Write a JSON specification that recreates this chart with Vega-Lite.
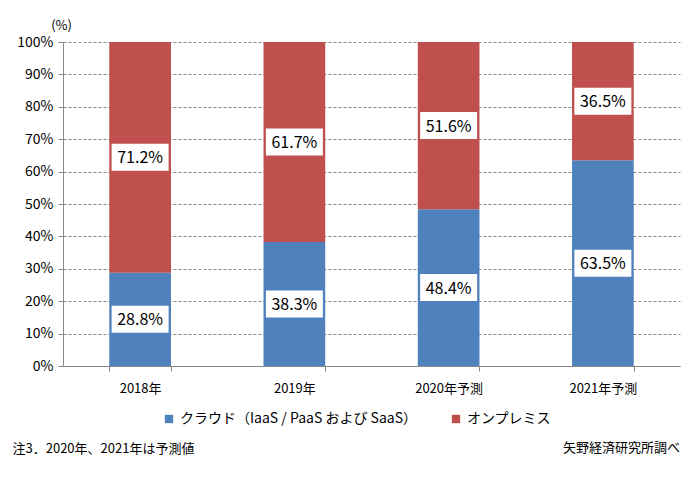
{
  "$schema": "https://vega.github.io/schema/vega-lite/v6.json",
  "autosize": {"type": "none"},
  "width": 617,
  "height": 324,
  "padding": {"left": 63, "top": 42, "right": 13, "bottom": 119},
  "background": "white",
  "config": {
    "font": "Noto Sans CJK JP",
    "view": {"stroke": null},
    "axisY": {
      "tickCount": 10,
      "labelOverlap": false,
      "labelExpr": "datum.value + '%'",
      "labelFontSize": 14,
      "labelColor": "black",
      "labelPadding": 5,
      "tickSize": 5,
      "tickColor": "#888888",
      "domainColor": "#888888",
      "grid": true,
      "gridDash": [3, 2],
      "gridColor": "#888888",
      "gridWidth": 1,
      "titleAngle": 0,
      "titleFontSize": 13,
      "titleFontWeight": "normal",
      "titleColor": "black",
      "titleAlign": "center",
      "titleBaseline": "middle",
      "titleX": -2,
      "titleY": -17
    }
  },
  "title": {
    "text": "矢野経済研究所調べ",
    "orient": "bottom",
    "anchor": "end",
    "frame": "group",
    "fontSize": 13,
    "fontWeight": "normal",
    "color": "black",
    "offset": -13
  },
  "data": {
    "values": [
      {"year": "2018年", "type": "クラウド（IaaS / PaaS および SaaS）", "ord": 1, "value": 28.8},
      {"year": "2018年", "type": "オンプレミス", "ord": 2, "value": 71.2},
      {"year": "2019年", "type": "クラウド（IaaS / PaaS および SaaS）", "ord": 1, "value": 38.3},
      {"year": "2019年", "type": "オンプレミス", "ord": 2, "value": 61.7},
      {"year": "2020年予測", "type": "クラウド（IaaS / PaaS および SaaS）", "ord": 1, "value": 48.4},
      {"year": "2020年予測", "type": "オンプレミス", "ord": 2, "value": 51.6},
      {"year": "2021年予測", "type": "クラウド（IaaS / PaaS および SaaS）", "ord": 1, "value": 63.5},
      {"year": "2021年予測", "type": "オンプレミス", "ord": 2, "value": 36.5}
    ]
  },
  "transform": [
    {"stack": "value", "groupby": ["year"], "sort": [{"field": "ord", "order": "ascending"}], "as": ["y0", "y1"]},
    {"calculate": "(datum.y0 + datum.y1) / 2", "as": "mid"},
    {"calculate": "format(datum.value, '.1f') + '%'", "as": "label"}
  ],
  "encoding": {
    "x": {
      "field": "year",
      "type": "nominal",
      "sort": null,
      "scale": {"paddingInner": 0.6, "paddingOuter": 0.3},
      "axis": {
        "labelAngle": 0,
        "labelFontSize": 13,
        "labelColor": "black",
        "labelPadding": 11,
        "tickBand": "extent",
        "tickSize": 5,
        "tickColor": "#888888",
        "domainColor": "#888888",
        "title": "注3．2020年、2021年は予測値",
        "titleFontSize": 13,
        "titleFontWeight": "normal",
        "titleColor": "black",
        "titleAnchor": "start",
        "titleAlign": "left",
        "titleBaseline": "middle",
        "titleX": -51,
        "titleY": 82
      }
    }
  },
  "layer": [
    {
      "mark": {"type": "bar"},
      "encoding": {
        "y": {
          "field": "y0",
          "type": "quantitative",
          "scale": {"domain": [0, 100]},
          "axis": {"title": "(%)"}
        },
        "y2": {"field": "y1"},
        "color": {
          "field": "type",
          "type": "nominal",
          "scale": {
            "domain": ["クラウド（IaaS / PaaS および SaaS）", "オンプレミス"],
            "range": ["#4F81BD", "#C0504D"]
          },
          "legend": {
            "title": null,
            "orient": "none",
            "direction": "horizontal",
            "legendX": 99,
            "legendY": 370,
            "symbolType": "square",
            "symbolSize": 70,
            "labelFontSize": 14,
            "labelLimit": 0,
            "labelColor": "black",
            "columnPadding": 32,
            "symbolStrokeWidth": 0
          }
        }
      }
    },
    {
      "mark": {"type": "tick", "color": "white", "size": 57, "thickness": 27, "opacity": 1},
      "encoding": {
        "y": {"field": "mid", "type": "quantitative"}
      }
    },
    {
      "mark": {"type": "text", "fontSize": 16, "color": "black", "baseline": "middle", "dy": 1},
      "encoding": {
        "y": {"field": "mid", "type": "quantitative"},
        "text": {"field": "label"}
      }
    }
  ]
}
